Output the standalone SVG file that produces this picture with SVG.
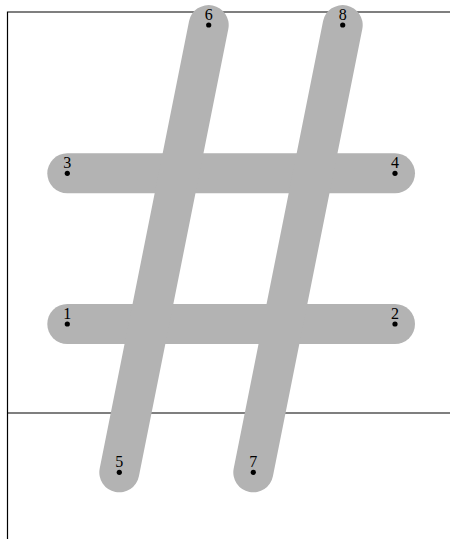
<svg xmlns="http://www.w3.org/2000/svg" width="450" height="539" viewBox="0 0 450 539">
<style>
.bar{stroke:#b3b3b3;stroke-width:40;stroke-linecap:round;fill:none}
.ax{stroke:#000;stroke-width:1.2;fill:none}
.pt{fill:#000}
.lb{font-family:"Liberation Serif",serif;font-size:16px;text-anchor:middle;fill:#000}
</style>
<rect width="450" height="539" fill="#fff"/>
<g id="frame">
<path class="ax" d="M7.5,539 V12 H450"/>
<path class="ax" d="M7.5,413 H450"/>
</g>
<g id="connectors">
<line class="bar" x1="67.3" y1="173.3" x2="395" y2="173.3"/>
<line class="bar" x1="67.3" y1="324" x2="395" y2="324"/>
<line class="bar" x1="119.3" y1="472.3" x2="208.7" y2="25"/>
<line class="bar" x1="253.3" y1="472.3" x2="342.7" y2="25"/>
</g>
<g id="n1"><circle class="pt" cx="67.3" cy="324" r="2.6"/><text class="lb" x="67.3" y="318.5">1</text></g>
<g id="n2"><circle class="pt" cx="395" cy="324" r="2.6"/><text class="lb" x="395" y="318.5">2</text></g>
<g id="n3"><circle class="pt" cx="67.3" cy="173.3" r="2.6"/><text class="lb" x="67.3" y="167.8">3</text></g>
<g id="n4"><circle class="pt" cx="395" cy="173.3" r="2.6"/><text class="lb" x="395" y="167.8">4</text></g>
<g id="n5"><circle class="pt" cx="119.3" cy="472.3" r="2.6"/><text class="lb" x="119.3" y="466.8">5</text></g>
<g id="n6"><circle class="pt" cx="208.7" cy="25" r="2.6"/><text class="lb" x="208.7" y="19.5">6</text></g>
<g id="n7"><circle class="pt" cx="253.3" cy="472.3" r="2.6"/><text class="lb" x="253.3" y="466.8">7</text></g>
<g id="n8"><circle class="pt" cx="342.7" cy="25" r="2.6"/><text class="lb" x="342.7" y="19.5">8</text></g>
</svg>
